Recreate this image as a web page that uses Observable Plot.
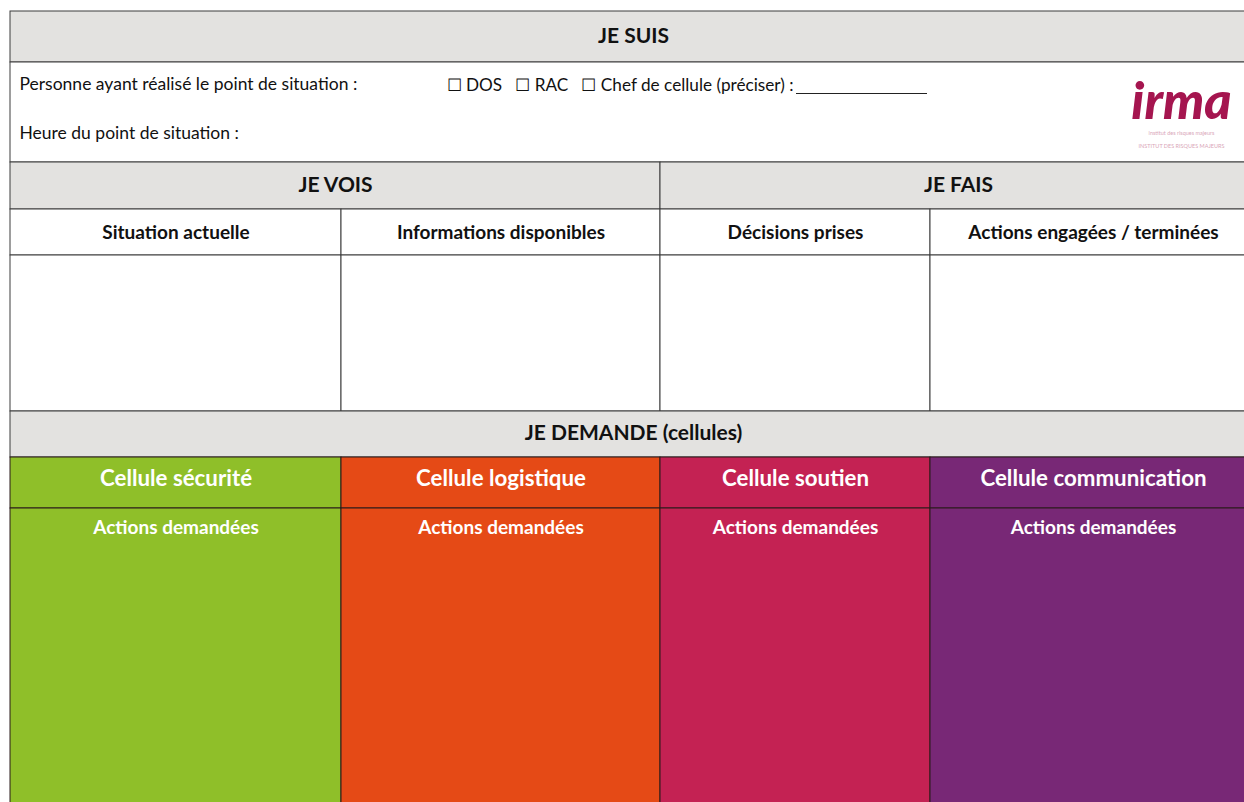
<!DOCTYPE html>
<html>
<head>
<meta charset="utf-8">
<script src="https://cdn.jsdelivr.net/npm/d3@7"></script>
<script src="https://cdn.jsdelivr.net/npm/@observablehq/plot@0.6"></script>
<style>
  html, body { margin: 0; padding: 0; background: #fff; overflow: hidden; }
  #chart svg { display: block; }
</style>
</head>
<body>
<div id="chart"></div>
<script>
// ---- Data (texts of the form) ----
const sections = ["JE SUIS", "JE VOIS", "JE FAIS", "JE DEMANDE (cellules)"];
const infoLabels = ["Personne ayant réalisé le point de situation :", "Heure du point de situation :"];
const roles = ["DOS", "RAC", "Chef de cellule (préciser) :"];
const columns = ["Situation actuelle", "Informations disponibles", "Décisions prises", "Actions engagées / terminées"];
const cellules = ["Cellule sécurité", "Cellule logistique", "Cellule soutien", "Cellule communication"];
const cellTask = "Actions demandées";
const logoText = "irma";
const logoSub = ["institut des risques majeurs", "INSTITUT DES RISQUES MAJEURS"];

// ---- Styles / layout ----
const palette = ["#8fbf29", "#e54a16", "#c42253", "#782876"];
const grey = "#e3e2e0";
const lineCol = "#3c3c3c";
const font = "Lato, Carlito, 'Open Sans', sans-serif";
const colEdges = [10, 341, 660, 930, 1256];
const rowEdges = [11, 62, 162, 209, 255, 411, 457, 508, 840];

const L = colEdges[0], R = colEdges[4];
const colMid = i => (colEdges[i] + colEdges[i + 1]) / 2;

// grid cells
const cells = [];
cells.push({x1: L, x2: R, y1: rowEdges[0], y2: rowEdges[1], fill: grey});
cells.push({x1: L, x2: R, y1: rowEdges[1], y2: rowEdges[2], fill: "#fff"});
cells.push({x1: L, x2: colEdges[2], y1: rowEdges[2], y2: rowEdges[3], fill: grey});
cells.push({x1: colEdges[2], x2: R, y1: rowEdges[2], y2: rowEdges[3], fill: grey});
for (let i = 0; i < 4; i++) {
  cells.push({x1: colEdges[i], x2: colEdges[i + 1], y1: rowEdges[3], y2: rowEdges[4], fill: "#fff"});
  cells.push({x1: colEdges[i], x2: colEdges[i + 1], y1: rowEdges[4], y2: rowEdges[5], fill: "#fff"});
}
cells.push({x1: L, x2: R, y1: rowEdges[5], y2: rowEdges[6], fill: grey});

const colored = [];
cellules.forEach((c, i) => {
  colored.push({x1: colEdges[i], x2: colEdges[i + 1], y1: rowEdges[6], y2: rowEdges[7], cellule: c});
  colored.push({x1: colEdges[i], x2: colEdges[i + 1], y1: rowEdges[7], y2: rowEdges[8], cellule: c});
});

// texts
const sectionTexts = [
  {x: (L + R) / 2, y: 36, t: sections[0]},
  {x: (L + colEdges[2]) / 2, y: 185, t: sections[1]},
  {x: (colEdges[2] + R) / 2, y: 185, t: sections[2]},
  {x: (L + R) / 2, y: 433, t: sections[3]}
];
const colTexts = columns.map((c, i) => ({x: colMid(i), y: 232, t: c}));
const whiteTitles = cellules.map((c, i) => ({x: colMid(i), y: 478, t: c}));
const whiteTasks = cellules.map((c, i) => ({x: colMid(i), y: 527, t: cellTask}));
const info = [
  {x: 19, y: 84, t: infoLabels[0]},
  {x: 19, y: 133, t: infoLabels[1]}
];
const roleLine = [{x: 446, y: 85, t: roles.map(r => "\u2610 " + r).join("   ")}];

const plot = Plot.plot({
  width: 1244,
  height: 802,
  margin: 0,
  x: {domain: [0, 1244], range: [0, 1244], axis: null},
  y: {domain: [0, 802], range: [0, 802], axis: null},
  color: {domain: cellules, range: palette},
  style: {background: "#fff", fontFamily: font},
  marks: [
    Plot.rect(cells, {x1: "x1", x2: "x2", y1: "y1", y2: "y2", fill: d => d.fill, stroke: lineCol, strokeWidth: 1}),
    Plot.rect(colored, {x1: "x1", x2: "x2", y1: "y1", y2: "y2", fill: "cellule", stroke: "#2a1a1a", strokeWidth: 1}),
    Plot.text(sectionTexts, {x: "x", y: "y", text: "t", fontSize: 21, fontWeight: "bold", fill: "#111", fontFamily: font}),
    Plot.text(colTexts, {x: "x", y: "y", text: "t", fontSize: 19, fontWeight: "bold", fill: "#111", fontFamily: font}),
    Plot.text(whiteTitles, {x: "x", y: "y", text: "t", fontSize: 22.3, fontWeight: "bold", fill: "#fff", fontFamily: font}),
    Plot.text(whiteTasks, {x: "x", y: "y", text: "t", fontSize: 19, fontWeight: "bold", fill: "#fff", fontFamily: font}),
    Plot.text(info, {x: "x", y: "y", text: "t", fontSize: 17.5, textAnchor: "start", fill: "#111", fontFamily: font}),
    Plot.text(roleLine, {x: "x", y: "y", text: "t", fontSize: 17.2, textAnchor: "start", fill: "#111", fontFamily: font}),
    Plot.ruleY([{y: 93, x1: 796, x2: 927}], {y: "y", x1: "x1", x2: "x2", stroke: "#222", strokeWidth: 1}),
    Plot.text([{x: 1181, y: 102, t: logoText}], {x: "x", y: "y", text: "t", fontSize: 52, fontWeight: "900", fontStyle: "italic", fill: "#a5154f", fontFamily: font}),
    Plot.text(logoSub.map((t, i) => ({x: 1181, y: 133 + i * 13, t})), {x: "x", y: "y", text: "t", fontSize: 5.5, fill: "#d9a6b8", fontFamily: font})
  ]
});
document.getElementById("chart").appendChild(plot);
</script>
</body>
</html>
